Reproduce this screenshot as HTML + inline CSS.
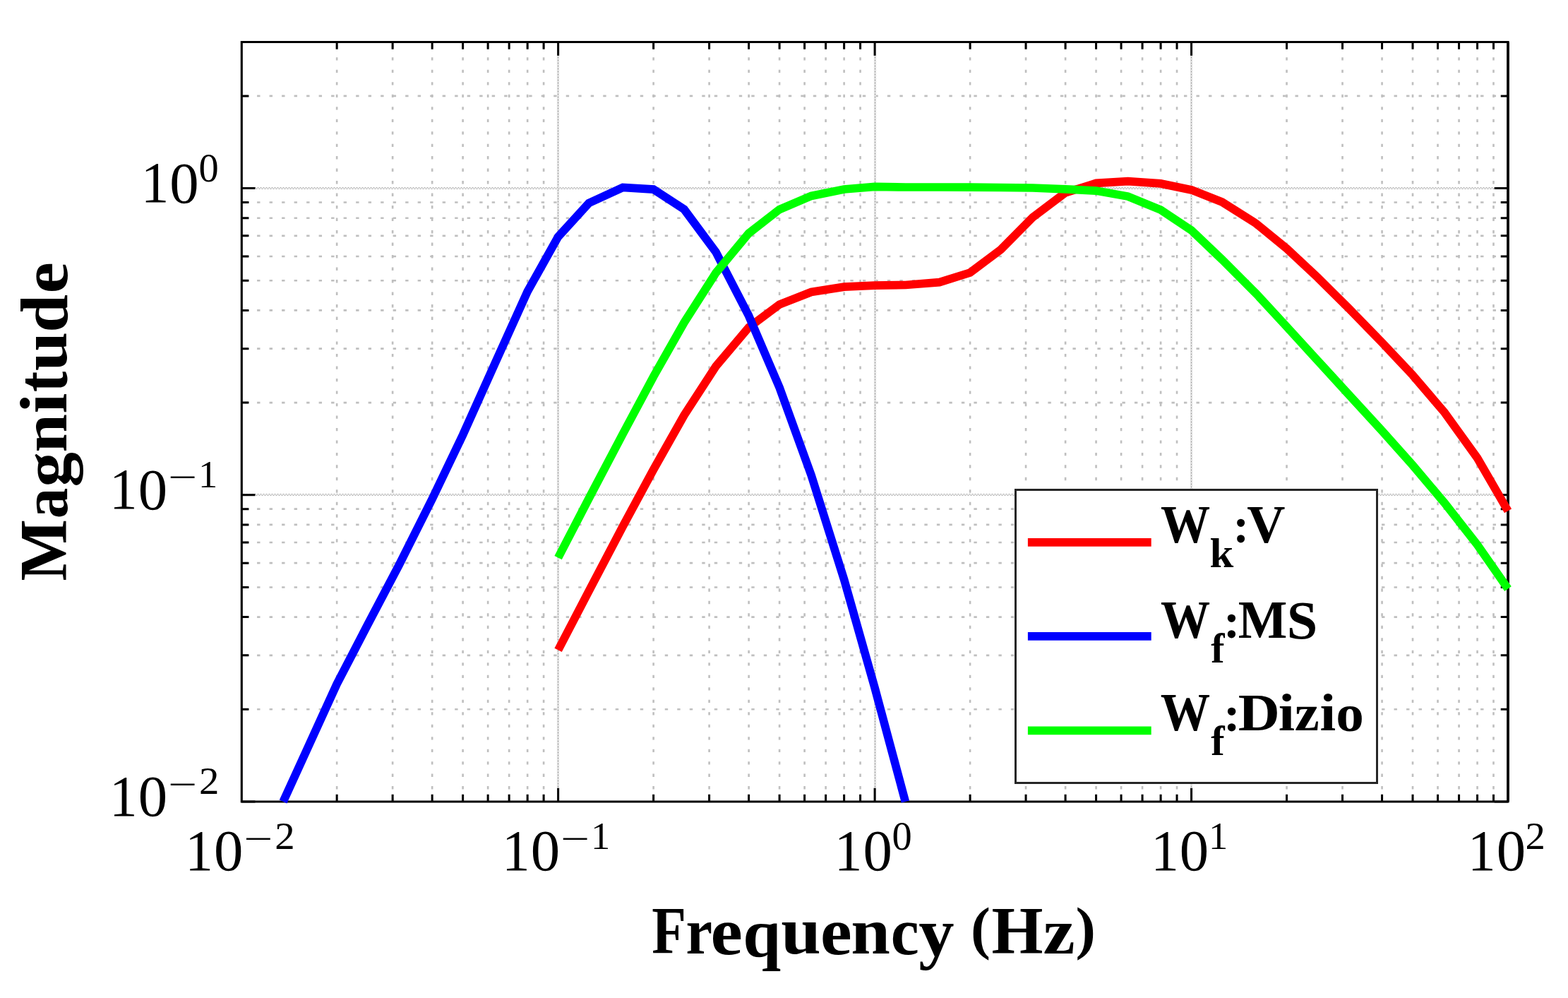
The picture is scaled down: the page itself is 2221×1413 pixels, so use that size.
<!DOCTYPE html>
<html lang="en"><head><meta charset="utf-8"><title>Frequency weightings</title>
<style>html,body{margin:0;padding:0;background:#fff}body{width:2221px;height:1413px;overflow:hidden}svg{display:block}text{font-family:"Liberation Serif",serif;font-size:100px;fill:#000}.b{font-weight:bold}</style></head><body>
<svg width="2221" height="1413" viewBox="0 0 2221 1413">
<defs><pattern id="hg" width="4" height="4" patternUnits="userSpaceOnUse"><rect width="4" height="4" fill="#f2f2f2"/><path d="M0 0h1v1h-1zM2 2h1v1h-1z" fill="#a4a4a4"/><path d="M1 0h1v1h-1zM3 0h1v1h-1zM0 1h1v1h-1zM0 3h1v1h-1zM1 2h1v1h-1zM3 2h1v1h-1zM2 1h1v1h-1zM2 3h1v1h-1z" fill="#c8c8c8"/><path d="M2 0h1v1h-1zM0 2h1v1h-1z" fill="#fff"/></pattern></defs>
<rect width="2221" height="1413" fill="#fff"/>
<g stroke="#bfbfbf" stroke-width="2.6" fill="none">
<g stroke-dasharray="4.4 13.09">
<path d="M477.15 1135.00V59.45"/>
<path d="M556.12 1135.00V59.45"/>
<path d="M612.16 1135.00V59.45"/>
<path d="M655.62 1135.00V59.45"/>
<path d="M691.13 1135.00V59.45"/>
<path d="M721.15 1135.00V59.45"/>
<path d="M747.16 1135.00V59.45"/>
<path d="M770.10 1135.00V59.45"/>
<path d="M925.62 1135.00V59.45"/>
<path d="M1004.59 1135.00V59.45"/>
<path d="M1060.63 1135.00V59.45"/>
<path d="M1104.09 1135.00V59.45"/>
<path d="M1139.60 1135.00V59.45"/>
<path d="M1169.62 1135.00V59.45"/>
<path d="M1195.63 1135.00V59.45"/>
<path d="M1218.57 1135.00V59.45"/>
<path d="M1374.09 1135.00V59.45"/>
<path d="M1453.06 1135.00V59.45"/>
<path d="M1509.10 1135.00V59.45"/>
<path d="M1552.56 1135.00V59.45"/>
<path d="M1588.07 1135.00V59.45"/>
<path d="M1618.09 1135.00V59.45"/>
<path d="M1644.10 1135.00V59.45"/>
<path d="M1667.04 1135.00V59.45"/>
<path d="M1822.56 1135.00V59.45"/>
<path d="M1901.53 1135.00V59.45"/>
<path d="M1957.57 1135.00V59.45"/>
<path d="M2001.03 1135.00V59.45"/>
<path d="M2036.54 1135.00V59.45"/>
<path d="M2066.56 1135.00V59.45"/>
<path d="M2092.57 1135.00V59.45"/>
<path d="M2115.51 1135.00V59.45"/>
</g><g stroke-dasharray="4.4 13.105">
<path d="M2136.50 1004.29H342.15"/>
<path d="M2136.50 927.84H342.15"/>
<path d="M2136.50 873.59H342.15"/>
<path d="M2136.50 831.51H342.15"/>
<path d="M2136.50 797.13H342.15"/>
<path d="M2136.50 768.06H342.15"/>
<path d="M2136.50 742.88H342.15"/>
<path d="M2136.50 720.67H342.15"/>
<path d="M2136.50 570.10H342.15"/>
<path d="M2136.50 493.64H342.15"/>
<path d="M2136.50 439.40H342.15"/>
<path d="M2136.50 397.32H342.15"/>
<path d="M2136.50 362.94H342.15"/>
<path d="M2136.50 333.87H342.15"/>
<path d="M2136.50 308.69H342.15"/>
<path d="M2136.50 286.48H342.15"/>
<path d="M2136.50 135.91H342.15"/>
</g></g>
<rect transform="translate(788 255)" x="1" y="-196" width="3" height="1076" fill="url(#hg)"/>
<rect transform="translate(1237 255)" x="1" y="-196" width="3" height="1076" fill="url(#hg)"/>
<rect transform="translate(1685 255)" x="1" y="-196" width="3" height="1076" fill="url(#hg)"/>
<rect transform="translate(777 699)" x="-435" y="0" width="1794" height="3" fill="url(#hg)" opacity="0.8"/>
<rect transform="translate(777 265)" x="-435" y="0" width="1794" height="3" fill="url(#hg)" opacity="0.8"/>
<path d="M477.15 1135.00v-10.3M477.15 59.45v10.3M556.12 1135.00v-10.3M556.12 59.45v10.3M612.16 1135.00v-10.3M612.16 59.45v10.3M655.62 1135.00v-10.3M655.62 59.45v10.3M691.13 1135.00v-10.3M691.13 59.45v10.3M721.15 1135.00v-10.3M721.15 59.45v10.3M747.16 1135.00v-10.3M747.16 59.45v10.3M770.10 1135.00v-10.3M770.10 59.45v10.3M925.62 1135.00v-10.3M925.62 59.45v10.3M1004.59 1135.00v-10.3M1004.59 59.45v10.3M1060.63 1135.00v-10.3M1060.63 59.45v10.3M1104.09 1135.00v-10.3M1104.09 59.45v10.3M1139.60 1135.00v-10.3M1139.60 59.45v10.3M1169.62 1135.00v-10.3M1169.62 59.45v10.3M1195.63 1135.00v-10.3M1195.63 59.45v10.3M1218.57 1135.00v-10.3M1218.57 59.45v10.3M1374.09 1135.00v-10.3M1374.09 59.45v10.3M1453.06 1135.00v-10.3M1453.06 59.45v10.3M1509.10 1135.00v-10.3M1509.10 59.45v10.3M1552.56 1135.00v-10.3M1552.56 59.45v10.3M1588.07 1135.00v-10.3M1588.07 59.45v10.3M1618.09 1135.00v-10.3M1618.09 59.45v10.3M1644.10 1135.00v-10.3M1644.10 59.45v10.3M1667.04 1135.00v-10.3M1667.04 59.45v10.3M1822.56 1135.00v-10.3M1822.56 59.45v10.3M1901.53 1135.00v-10.3M1901.53 59.45v10.3M1957.57 1135.00v-10.3M1957.57 59.45v10.3M2001.03 1135.00v-10.3M2001.03 59.45v10.3M2036.54 1135.00v-10.3M2036.54 59.45v10.3M2066.56 1135.00v-10.3M2066.56 59.45v10.3M2092.57 1135.00v-10.3M2092.57 59.45v10.3M2115.51 1135.00v-10.3M2115.51 59.45v10.3M790.62 1135.00v-19.3M790.62 59.45v19.3M1239.09 1135.00v-19.3M1239.09 59.45v19.3M1687.56 1135.00v-19.3M1687.56 59.45v19.3M342.15 1004.29h10.3M2136.03 1004.29h-10.3M342.15 927.84h10.3M2136.03 927.84h-10.3M342.15 873.59h10.3M2136.03 873.59h-10.3M342.15 831.51h10.3M2136.03 831.51h-10.3M342.15 797.13h10.3M2136.03 797.13h-10.3M342.15 768.06h10.3M2136.03 768.06h-10.3M342.15 742.88h10.3M2136.03 742.88h-10.3M342.15 720.67h10.3M2136.03 720.67h-10.3M342.15 570.10h10.3M2136.03 570.10h-10.3M342.15 493.64h10.3M2136.03 493.64h-10.3M342.15 439.40h10.3M2136.03 439.40h-10.3M342.15 397.32h10.3M2136.03 397.32h-10.3M342.15 362.94h10.3M2136.03 362.94h-10.3M342.15 333.87h10.3M2136.03 333.87h-10.3M342.15 308.69h10.3M2136.03 308.69h-10.3M342.15 286.48h10.3M2136.03 286.48h-10.3M342.15 135.91h10.3M2136.03 135.91h-10.3M342.15 1135.00h19.3M2136.03 1135.00h-19.3M342.15 700.81h19.3M2136.03 700.81h-19.3M342.15 266.61h19.3M2136.03 266.61h-19.3" stroke="#000" stroke-width="3" fill="none"/>
<path d="M342.30 59.45H2136.03V1135.00H342.30Z" fill="none" stroke="#000" stroke-width="3.1"/>
<path d="M2136.03 59.45V1135.00" fill="none" stroke="#000" stroke-width="3.6"/>
<g fill="none" stroke-width="11.7" stroke-linejoin="miter" stroke-linecap="butt">
<polyline points="790.6,920.4 834.1,836.9 882.2,745.3 925.6,664.9 969.1,587.9 1014.1,518.5 1060.6,463.5 1104.1,431.1 1149.1,413.5 1195.6,406.2 1239.1,404.2 1282.6,403.5 1330.6,399.6 1374.1,386.0 1417.6,353.4 1462.6,307.8 1509.1,272.9 1552.6,259.4 1597.6,256.7 1644.1,259.9 1687.6,268.9 1731.0,286.1 1779.1,316.4 1822.6,352.0 1866.0,392.5 1911.0,437.1 1957.6,485.0 2001.0,531.1 2046.0,583.8 2092.6,648.5 2136.0,723.4" stroke="#f00"/>
<polyline points="401.1,1135.0 433.7,1063.6 477.2,968.3 520.6,884.8 565.6,799.3 612.2,706.4 655.6,615.7 700.6,515.6 747.2,412.6 790.6,335.2 834.1,287.5 882.2,265.5 925.6,268.1 969.1,296.4 1014.1,357.1 1060.6,447.1 1104.1,548.7 1149.1,672.8 1195.6,820.5 1239.1,973.9 1282.4,1135.0" stroke="#00f"/>
<polyline points="790.6,789.6 834.1,705.8 882.2,614.4 925.6,533.2 969.1,456.5 1014.1,386.2 1060.6,330.3 1104.1,296.5 1149.1,277.4 1195.6,268.0 1239.1,264.4 1282.6,265.0 1330.6,265.0 1374.1,265.1 1417.6,265.5 1462.6,266.0 1509.1,267.8 1552.6,270.1 1597.6,278.1 1644.1,297.2 1687.6,326.0 1731.0,367.4 1779.1,415.5 1822.6,462.6 1866.0,510.1 1911.0,559.2 1957.6,610.0 2001.0,658.7 2046.0,711.9 2092.6,771.4 2136.0,833.6" stroke="#0f0"/>
</g>
<rect x="1438.5" y="693.5" width="512" height="415" fill="#fff" stroke="#262626" stroke-width="3"/>
<path d="M1455.9 767.95H1630.7" stroke="#f00" stroke-width="11.7" fill="none"/>
<path d="M1455.9 900.95H1630.7" stroke="#00f" stroke-width="11.7" fill="none"/>
<path d="M1455.9 1034.45H1630.7" stroke="#0f0" stroke-width="11.7" fill="none"/>
<text class="b"><tspan x="1643.91" y="767.90" font-size="75.25" textLength="70.20" lengthAdjust="spacingAndGlyphs">W</tspan><tspan x="1713.48" y="802.50" font-size="59.57" textLength="33.71" lengthAdjust="spacingAndGlyphs">k</tspan><tspan x="1746.39" y="767.75" font-size="69.83" textLength="22.73" lengthAdjust="spacingAndGlyphs">:</tspan><tspan x="1766.35" y="767.90" font-size="75.25" textLength="54.19" lengthAdjust="spacingAndGlyphs">V</tspan></text>
<text class="b"><tspan x="1644.01" y="903.25" font-size="75.25" textLength="70.20" lengthAdjust="spacingAndGlyphs">W</tspan><tspan x="1715.27" y="938.00" font-size="59.00" textLength="19.26" lengthAdjust="spacingAndGlyphs">f</tspan><tspan x="1733.13" y="903.45" font-size="69.83" textLength="23.35" lengthAdjust="spacingAndGlyphs">:</tspan><tspan x="1753.74" y="903.25" font-size="75.25" textLength="69.49" lengthAdjust="spacingAndGlyphs">M</tspan><tspan x="1822.84" y="903.74" font-size="76.27" textLength="43.50" lengthAdjust="spacingAndGlyphs">S</tspan></text>
<text class="b"><tspan x="1643.80" y="1034.45" font-size="75.25" textLength="70.40" lengthAdjust="spacingAndGlyphs">W</tspan><tspan x="1715.27" y="1068.70" font-size="58.14" textLength="19.36" lengthAdjust="spacingAndGlyphs">f</tspan><tspan x="1732.93" y="1034.55" font-size="70.04" textLength="23.76" lengthAdjust="spacingAndGlyphs">:</tspan><tspan x="1753.66" y="1034.45" font-size="73.81" textLength="59.05" lengthAdjust="spacingAndGlyphs">D</tspan><tspan x="1810.86" y="1034.45" font-size="73.55" textLength="23.28" lengthAdjust="spacingAndGlyphs">i</tspan><tspan x="1833.76" y="1034.45" font-size="72.93" textLength="35.01" lengthAdjust="spacingAndGlyphs">z</tspan><tspan x="1869.60" y="1034.45" font-size="73.55" textLength="22.70" lengthAdjust="spacingAndGlyphs">i</tspan><tspan x="1892.37" y="1034.86" font-size="74.17" textLength="39.65" lengthAdjust="spacingAndGlyphs">o</tspan></text>
<text><tspan x="199.63" y="286.00" font-size="82.90" textLength="39.63" lengthAdjust="spacingAndGlyphs">1</tspan><tspan x="240.34" y="286.52" font-size="83.06" textLength="41.42" lengthAdjust="spacingAndGlyphs">0</tspan><tspan x="281.45" y="256.62" font-size="57.90" textLength="28.21" lengthAdjust="spacingAndGlyphs">0</tspan></text>
<text><tspan x="154.93" y="720.05" font-size="82.90" textLength="39.63" lengthAdjust="spacingAndGlyphs">1</tspan><tspan x="195.64" y="720.57" font-size="83.06" textLength="41.42" lengthAdjust="spacingAndGlyphs">0</tspan><tspan x="237.97" y="693.01" font-size="52.10" textLength="40.99" lengthAdjust="spacingAndGlyphs">−</tspan><tspan x="280.90" y="689.88" font-size="55.56" textLength="27.27" lengthAdjust="spacingAndGlyphs">1</tspan></text>
<text><tspan x="155.03" y="1154.55" font-size="82.90" textLength="39.63" lengthAdjust="spacingAndGlyphs">1</tspan><tspan x="195.74" y="1155.07" font-size="83.06" textLength="41.42" lengthAdjust="spacingAndGlyphs">0</tspan><tspan x="238.07" y="1127.51" font-size="52.10" textLength="40.99" lengthAdjust="spacingAndGlyphs">−</tspan><tspan x="281.90" y="1124.38" font-size="55.80" textLength="28.43" lengthAdjust="spacingAndGlyphs">2</tspan></text>
<text><tspan x="262.33" y="1231.90" font-size="82.90" textLength="39.63" lengthAdjust="spacingAndGlyphs">1</tspan><tspan x="303.04" y="1232.42" font-size="83.06" textLength="41.42" lengthAdjust="spacingAndGlyphs">0</tspan><tspan x="345.37" y="1204.86" font-size="52.10" textLength="40.99" lengthAdjust="spacingAndGlyphs">−</tspan><tspan x="389.20" y="1201.73" font-size="55.80" textLength="28.43" lengthAdjust="spacingAndGlyphs">2</tspan></text>
<text><tspan x="711.03" y="1231.90" font-size="82.90" textLength="39.63" lengthAdjust="spacingAndGlyphs">1</tspan><tspan x="751.74" y="1232.42" font-size="83.06" textLength="41.42" lengthAdjust="spacingAndGlyphs">0</tspan><tspan x="794.07" y="1204.86" font-size="52.10" textLength="40.99" lengthAdjust="spacingAndGlyphs">−</tspan><tspan x="837.00" y="1201.73" font-size="55.56" textLength="27.27" lengthAdjust="spacingAndGlyphs">1</tspan></text>
<text><tspan x="1181.73" y="1231.90" font-size="82.90" textLength="39.63" lengthAdjust="spacingAndGlyphs">1</tspan><tspan x="1222.44" y="1232.42" font-size="83.06" textLength="41.42" lengthAdjust="spacingAndGlyphs">0</tspan><tspan x="1263.55" y="1202.52" font-size="57.90" textLength="28.21" lengthAdjust="spacingAndGlyphs">0</tspan></text>
<text><tspan x="1630.13" y="1231.90" font-size="82.90" textLength="39.63" lengthAdjust="spacingAndGlyphs">1</tspan><tspan x="1670.84" y="1232.42" font-size="83.06" textLength="41.42" lengthAdjust="spacingAndGlyphs">0</tspan><tspan x="1712.00" y="1201.73" font-size="55.56" textLength="27.27" lengthAdjust="spacingAndGlyphs">1</tspan></text>
<text><tspan x="2079.03" y="1231.90" font-size="82.90" textLength="39.63" lengthAdjust="spacingAndGlyphs">1</tspan><tspan x="2119.74" y="1232.42" font-size="83.06" textLength="41.42" lengthAdjust="spacingAndGlyphs">0</tspan><tspan x="2160.60" y="1201.73" font-size="55.80" textLength="28.43" lengthAdjust="spacingAndGlyphs">2</tspan></text>
<text class="b"><tspan x="923.33" y="1349.80" font-size="95.11" textLength="48.69" lengthAdjust="spacingAndGlyphs">F</tspan><tspan x="971.42" y="1349.80" font-size="92.34" textLength="37.50" lengthAdjust="spacingAndGlyphs">r</tspan><tspan x="1006.61" y="1350.75" font-size="94.66" textLength="45.24" lengthAdjust="spacingAndGlyphs">e</tspan><tspan x="1052.21" y="1353.50" font-size="97.62" textLength="53.89" lengthAdjust="spacingAndGlyphs">q</tspan><tspan x="1106.35" y="1350.44" font-size="95.74" textLength="56.59" lengthAdjust="spacingAndGlyphs">u</tspan><tspan x="1161.95" y="1350.75" font-size="94.66" textLength="44.66" lengthAdjust="spacingAndGlyphs">e</tspan><tspan x="1205.31" y="1349.80" font-size="92.34" textLength="55.61" lengthAdjust="spacingAndGlyphs">n</tspan><tspan x="1261.81" y="1350.76" font-size="94.37" textLength="39.93" lengthAdjust="spacingAndGlyphs">c</tspan><tspan x="1301.39" y="1353.04" font-size="97.26" textLength="50.31" lengthAdjust="spacingAndGlyphs">y</tspan> <tspan x="1374.91" y="1341.87" font-size="82.59" textLength="27.88" lengthAdjust="spacingAndGlyphs">(</tspan><tspan x="1404.49" y="1349.80" font-size="95.11" textLength="72.97" lengthAdjust="spacingAndGlyphs">H</tspan><tspan x="1477.61" y="1349.80" font-size="91.35" textLength="45.16" lengthAdjust="spacingAndGlyphs">z</tspan><tspan x="1523.64" y="1341.90" font-size="82.70" textLength="28.43" lengthAdjust="spacingAndGlyphs">)</tspan></text>
<text class="b" transform="rotate(-90)"><tspan x="-822.49" y="94.20" font-size="96.10" textLength="87.46" lengthAdjust="spacingAndGlyphs">M</tspan><tspan x="-734.13" y="94.52" font-size="92.38" textLength="43.53" lengthAdjust="spacingAndGlyphs">a</tspan><tspan x="-689.46" y="97.74" font-size="92.56" textLength="49.55" lengthAdjust="spacingAndGlyphs">g</tspan><tspan x="-640.65" y="94.20" font-size="91.70" textLength="54.74" lengthAdjust="spacingAndGlyphs">n</tspan><tspan x="-585.49" y="93.97" font-size="94.45" textLength="28.92" lengthAdjust="spacingAndGlyphs">i</tspan><tspan x="-555.23" y="93.92" font-size="103.78" textLength="29.32" lengthAdjust="spacingAndGlyphs">t</tspan><tspan x="-525.21" y="94.26" font-size="93.83" textLength="55.40" lengthAdjust="spacingAndGlyphs">u</tspan><tspan x="-470.84" y="94.54" font-size="96.29" textLength="53.82" lengthAdjust="spacingAndGlyphs">d</tspan><tspan x="-415.63" y="94.96" font-size="93.62" textLength="44.43" lengthAdjust="spacingAndGlyphs">e</tspan></text>
</svg></body></html>
